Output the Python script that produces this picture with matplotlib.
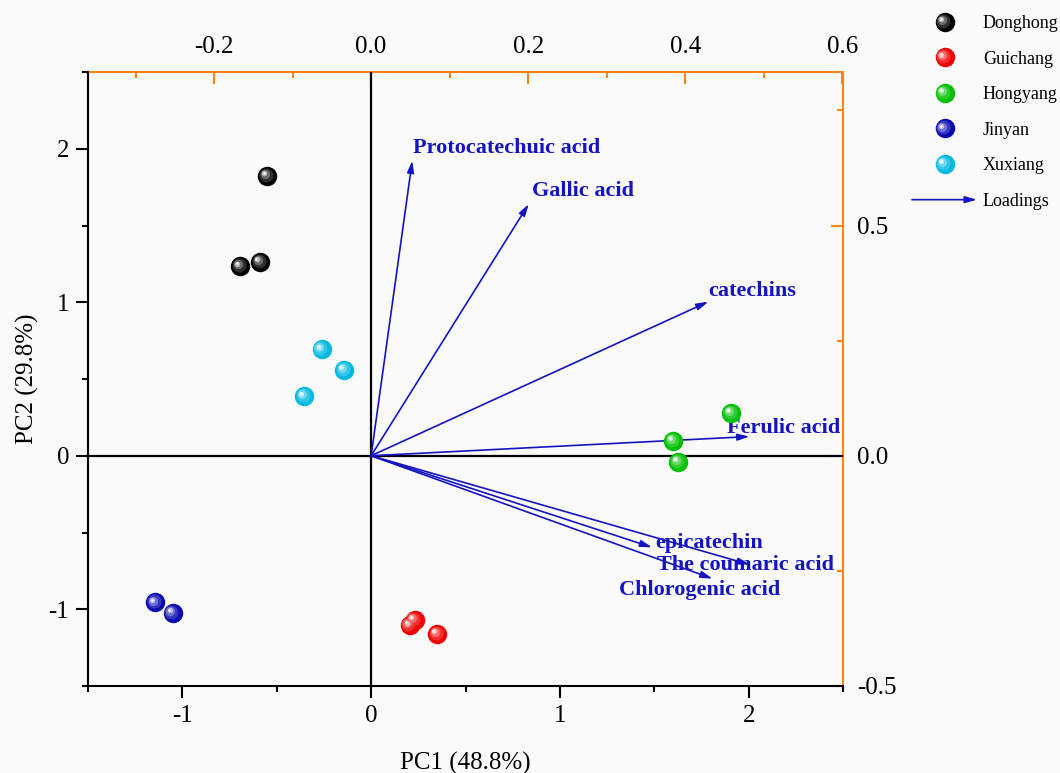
#!/usr/bin/env python3

import numpy as np
import matplotlib
matplotlib.use("Agg")
import matplotlib.pyplot as plt
import matplotlib.transforms as mtransforms
from matplotlib.colors import to_rgb
from matplotlib.lines import Line2D
from matplotlib.patches import FancyArrowPatch
from matplotlib.legend_handler import HandlerBase
from matplotlib.ticker import MultipleLocator, FormatStrFormatter

plt.rcParams["font.family"] = ["Liberation Serif", "DejaVu Serif"]
plt.rcParams["axes.unicode_minus"] = False

# sample scores (PC1, PC2)
groups = ["Donghong", "Guichang", "Hongyang", "Jinyan", "Xuxiang"]
group_colors = ["#000000", "#f00000", "#00c000", "#0a0ab0", "#00b8e0"]
pc1_scores = [
    [-0.550, -0.695, -0.590],
    [0.230, 0.204, 0.348],
    [1.906, 1.601, 1.628],
    [-1.144, -1.052],
    [-0.262, -0.145, -0.355],
]
pc2_scores = [
    [1.822, 1.235, 1.262],
    [-1.069, -1.105, -1.160],
    [0.280, 0.098, -0.039],
    [-0.956, -1.022],
    [0.694, 0.558, 0.387],
]

# loading arrows, tips given in score units of the biplot
variables = [
    "Protocatechuic acid", "Gallic acid", "catechins", "Ferulic acid",
    "epicatechin", "The coumaric acid", "Chlorogenic acid",
]
arrow_x = [0.218, 0.835, 1.787, 2.005, 1.489, 2.005, 1.809]
arrow_y = [1.923, 1.640, 1.004, 0.125, -0.597, -0.709, -0.801]
label_x = [0.223, 0.851, 1.787, 1.888, 1.505, 1.516, 1.314]
label_y = [2.008, 1.726, 1.076, 0.184, -0.571, -0.709, -0.873]

loading_scale_x = 4.16
loading_scale_y = 3.0

ORANGE = "#ff8412"
BLUE = "#1414c0"
BG = "#fafafa"
MS = 14


def lighten(color, amount):
    c = np.array(to_rgb(color))
    return tuple(c + (1.0 - c) * amount)


# (size factor, white mix, dx pt, dy pt)
SPHERE_LAYERS = [
    (1.00, 0.00, 0.0, 0.0),
    (0.72, 0.18, -0.9, 0.8),
    (0.48, 0.42, -1.6, 1.4),
    (0.28, 0.72, -2.2, 1.9),
    (0.12, 1.00, -2.4, 2.1),
]


def draw_spheres(ax, fig, x, y, color):
    for k, (f, mix, dx, dy) in enumerate(SPHERE_LAYERS):
        tr = mtransforms.offset_copy(ax.transData, fig=fig, x=dx, y=dy, units="points")
        ax.plot(x, y, "o", ms=MS * f, mfc=lighten(color, mix), mec="none",
                transform=tr, zorder=5 + k * 0.1)


class SphereHandler(HandlerBase):
    def __init__(self, color):
        super().__init__()
        self.color = color

    def create_artists(self, legend, orig_handle, xdescent, ydescent,
                       width, height, fontsize, trans):
        cx = width / 2 - xdescent
        cy = height / 2 - ydescent
        arts = []
        for f, mix, dx, dy in SPHERE_LAYERS:
            arts.append(Line2D([cx + dx], [cy + dy], marker="o", ms=MS * f,
                               mfc=lighten(self.color, mix), mec="none",
                               linestyle="none", transform=trans))
        return arts


class ArrowHandler(HandlerBase):
    def create_artists(self, legend, orig_handle, xdescent, ydescent,
                       width, height, fontsize, trans):
        cy = height / 2 - ydescent
        arr = FancyArrowPatch((-xdescent, cy), (width - xdescent, cy),
                              arrowstyle="-|>,head_length=0.7,head_width=0.2",
                              mutation_scale=10, lw=1.2, color=BLUE,
                              shrinkA=0, shrinkB=0, transform=trans)
        return [arr]


fig = plt.figure(figsize=(10.6, 7.73), dpi=100, facecolor=BG)
ax = fig.add_axes([88 / 1060, 1 - 686 / 773, 755 / 1060, 614 / 773])
ax.set_facecolor(BG)

ax.set_xlim(-1.5, 2.5)
ax.set_ylim(-1.5, 2.5)

ax.axhline(0, color="black", lw=1.6, zorder=1)
ax.axvline(0, color="black", lw=1.6, zorder=1)

for xs, ys, c in zip(pc1_scores, pc2_scores, group_colors):
    draw_spheres(ax, fig, xs, ys, c)

for name, ax_, ay_, lx, ly in zip(variables, arrow_x, arrow_y, label_x, label_y):
    ax.annotate("", xy=(ax_, ay_), xytext=(0, 0),
                arrowprops=dict(arrowstyle="-|>,head_length=0.7,head_width=0.2",
                                mutation_scale=10, lw=1.2, color=BLUE,
                                shrinkA=0, shrinkB=0),
                zorder=3)
    ax.text(lx, ly, name, color=BLUE, fontsize=16, fontweight="bold",
            ha="left", va="center", zorder=4)

# primary axes
ax.spines["top"].set_visible(False)
ax.spines["right"].set_visible(False)
for s in ["left", "bottom"]:
    ax.spines[s].set_linewidth(1.5)
ax.xaxis.set_major_locator(MultipleLocator(1))
ax.xaxis.set_minor_locator(MultipleLocator(0.5))
ax.yaxis.set_major_locator(MultipleLocator(1))
ax.yaxis.set_minor_locator(MultipleLocator(0.5))
ax.tick_params(which="major", direction="out", length=8.5, width=1.5,
               labelsize=18, pad=5)
ax.tick_params(which="minor", direction="out", length=4.5, width=1.5)
ax.set_xlabel("PC1 (48.8%)", fontsize=18, labelpad=18)
ax.set_ylabel("PC2 (29.8%)", fontsize=18, labelpad=7)

# loading axes
top = ax.secondary_xaxis("top", functions=(lambda v: v / loading_scale_x,
                                           lambda v: v * loading_scale_x))
right = ax.secondary_yaxis("right", functions=(lambda v: v / loading_scale_y,
                                               lambda v: v * loading_scale_y))
for sec in (top, right):
    for sp in sec.spines.values():
        sp.set_color(ORANGE)
        sp.set_linewidth(1.5)
top.xaxis.set_major_locator(MultipleLocator(0.2))
top.xaxis.set_minor_locator(MultipleLocator(0.1))
top.xaxis.set_major_formatter(FormatStrFormatter("%.1f"))
right.yaxis.set_major_locator(MultipleLocator(0.5))
right.yaxis.set_minor_locator(MultipleLocator(0.25))
right.yaxis.set_major_formatter(FormatStrFormatter("%.1f"))
for sec in (top, right):
    sec.tick_params(which="major", direction="in", length=8.5, width=1.5,
                    color=ORANGE, labelcolor="black", labelsize=18, pad=10)
    sec.tick_params(which="minor", direction="in", length=4.5, width=1.5,
                    color=ORANGE)

# legend
handles = [Line2D([], []) for _ in groups] + [Line2D([], [])]
labels = groups + ["Loadings"]
handler_map = {h: SphereHandler(c) for h, c in zip(handles[:-1], group_colors)}
handler_map[handles[-1]] = ArrowHandler()
fig.legend(handles, labels, handler_map=handler_map, loc="upper left",
           bbox_to_anchor=(912 / 1060, 1 - 15 / 773), frameon=False,
           fontsize=13, handlelength=3.6, handletextpad=0.33,
           labelspacing=1.03, borderpad=0, borderaxespad=0)

fig.savefig("out.png", dpi=100, facecolor=BG)
